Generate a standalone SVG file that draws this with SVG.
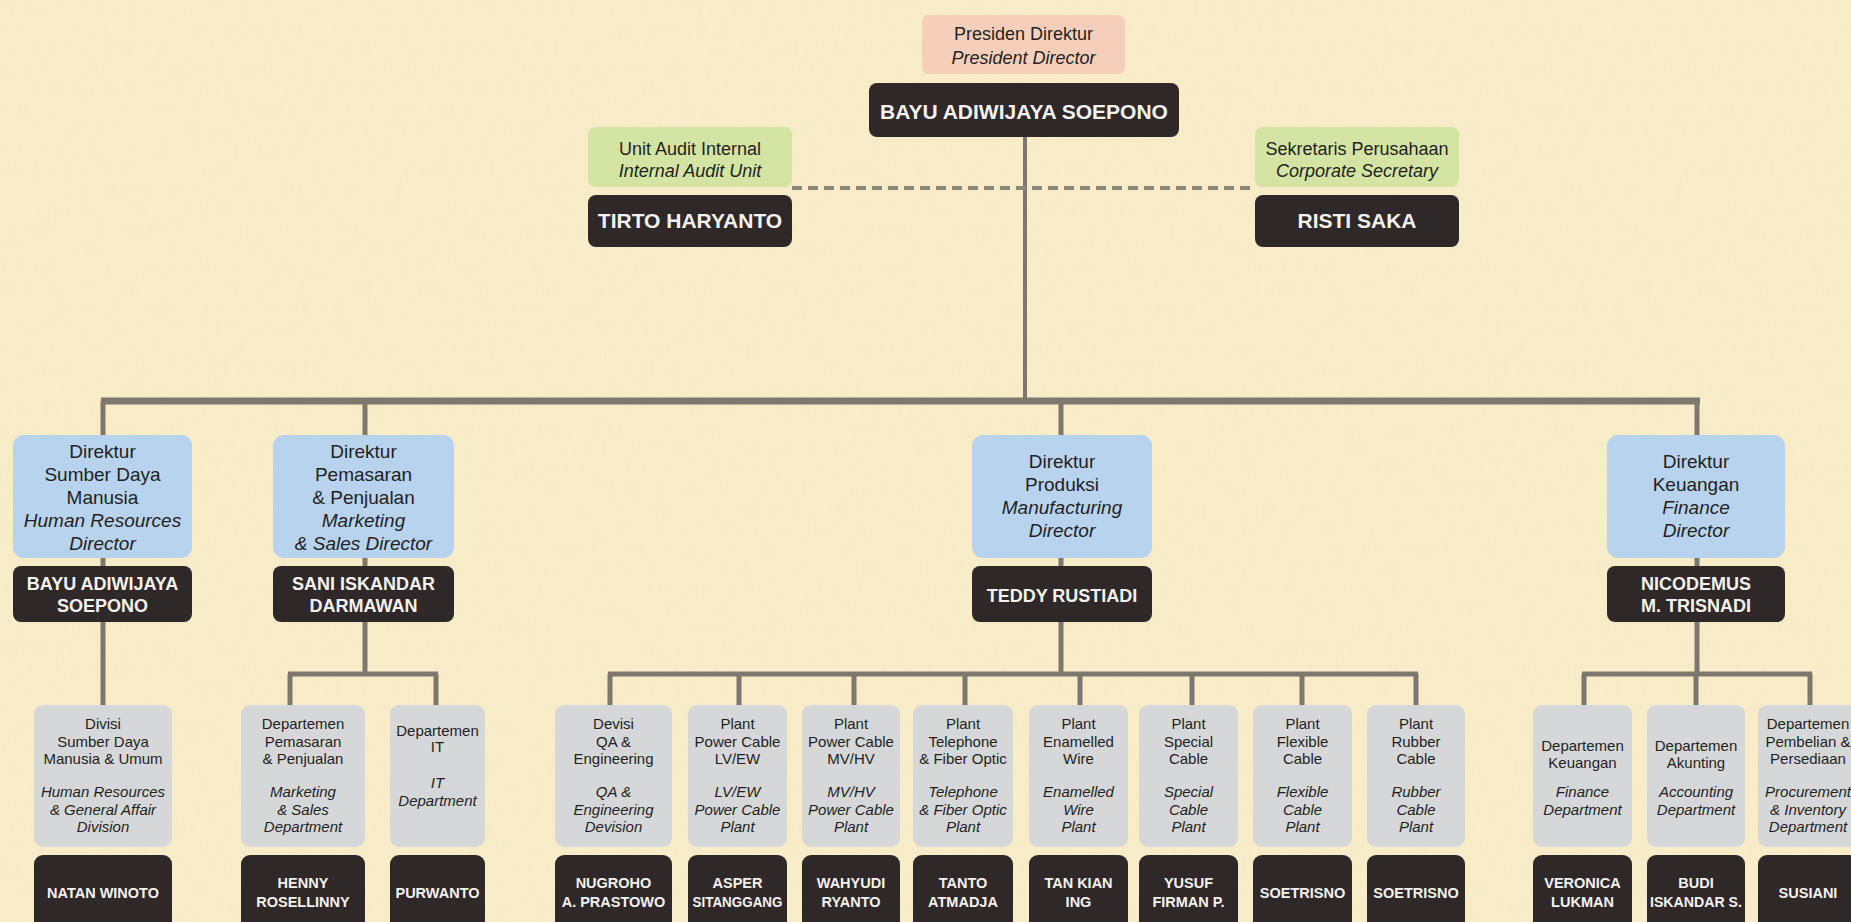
<svg xmlns="http://www.w3.org/2000/svg" width="1851" height="922" viewBox="0 0 1851 922">
<defs>
<filter id="paper" x="0" y="0" width="100%" height="100%">
<feTurbulence type="fractalNoise" baseFrequency="0.6 0.05" numOctaves="2" seed="7"/>
<feColorMatrix type="matrix" values="0 0 0 0 0.82  0 0 0 0 0.72  0 0 0 0 0.50  0.9 0 0 0 -0.38"/>
</filter>
<style>
.t{font-family:"Liberation Sans",Arial,Helvetica,sans-serif;text-anchor:middle;fill:#231f1e}
.w{fill:#f4f2ef;font-weight:bold}
.i{font-style:italic}
.s18{font-size:18px}
.s19{font-size:19px}
.s21{font-size:21px}
.s15{font-size:15px}
.s14{font-size:14.5px}
.pink{fill:#f6cfbb}
.green{fill:#d3e4a3}
.blue{fill:#b8d3ee}
.gray{fill:#d5d7d8}
.dark{fill:#2f2828}
.ln{stroke:#7d786e;fill:none}
.bus{stroke-width:7}
.l5{stroke-width:5}
.l4{stroke-width:4}
.dash{stroke:#8b877d;stroke-width:4;stroke-dasharray:10 6;fill:none}
</style>
</defs>
<rect x="0" y="0" width="1851" height="922" fill="#f9edc9"/>
<rect x="0" y="0" width="1851" height="922" filter="url(#paper)" opacity="0.35"/>

<g id="connectors">
<path class="ln l4" d="M1025 137 V401"/>
<path class="dash" d="M792 188 H1255"/>
<path class="ln bus" d="M101 401 H1700"/>
<path class="ln l5" d="M103 401 V706 M365 401 V674 M1061 401 V674 M1697 401 V674"/>
<path class="ln l5" d="M288 674 H438 M290 674 V706 M436 674 V706"/>
<path class="ln l5" d="M608 674 H1418 M610 674 V706 M739 674 V706 M854 674 V706 M965 674 V706 M1080 674 V706 M1192 674 V706 M1302 674 V706 M1416 674 V706"/>
<path class="ln l5" d="M1582 674 H1812 M1584 674 V706 M1696 674 V706 M1810 674 V706"/>
</g>

<g id="president">
<rect class="pink" x="922" y="15" width="203" height="59" rx="7"/>
<text class="t s18" x="1023.5" y="40">Presiden Direktur</text>
<text class="t s18 i" x="1023.5" y="64">President Director</text>
<rect class="dark" x="869" y="83" width="310" height="54" rx="8"/>
<text class="t w s21" x="1024" y="119">BAYU ADIWIJAYA SOEPONO</text>
</g>

<g id="audit">
<rect class="green" x="588" y="127" width="204" height="60" rx="7"/>
<text class="t s18" x="690" y="155">Unit Audit Internal</text>
<text class="t s18 i" x="690" y="177">Internal Audit Unit</text>
<rect class="dark" x="588" y="195" width="204" height="52" rx="8"/>
<text class="t w s21" x="690" y="228">TIRTO HARYANTO</text>
</g>

<g id="secretary">
<rect class="green" x="1255" y="127" width="204" height="60" rx="7"/>
<text class="t s18" x="1357" y="155">Sekretaris Perusahaan</text>
<text class="t s18 i" x="1357" y="177">Corporate Secretary</text>
<rect class="dark" x="1255" y="195" width="204" height="52" rx="8"/>
<text class="t w s21" x="1357" y="228">RISTI SAKA</text>
</g>

<g id="dir-hr">
<rect class="blue" x="13" y="435" width="179" height="123" rx="11"/>
<text class="t s19" x="102.5" y="458">Direktur</text>
<text class="t s19" x="102.5" y="481">Sumber Daya</text>
<text class="t s19" x="102.5" y="504">Manusia</text>
<text class="t s19 i" x="102.5" y="527">Human Resources</text>
<text class="t s19 i" x="102.5" y="550">Director</text>
<rect class="dark" x="13" y="566" width="179" height="56" rx="8"/>
<text class="t w s18" x="102.5" y="590">BAYU ADIWIJAYA</text>
<text class="t w s18" x="102.5" y="612">SOEPONO</text>
</g>

<g id="dir-mkt">
<rect class="blue" x="273" y="435" width="181" height="123" rx="11"/>
<text class="t s19" x="363.5" y="458">Direktur</text>
<text class="t s19" x="363.5" y="481">Pemasaran</text>
<text class="t s19" x="363.5" y="504">&amp; Penjualan</text>
<text class="t s19 i" x="363.5" y="527">Marketing</text>
<text class="t s19 i" x="363.5" y="550">&amp; Sales Director</text>
<rect class="dark" x="273" y="566" width="181" height="56" rx="8"/>
<text class="t w s18" x="363.5" y="590">SANI ISKANDAR</text>
<text class="t w s18" x="363.5" y="612">DARMAWAN</text>
</g>

<g id="dir-prod">
<rect class="blue" x="972" y="435" width="180" height="123" rx="11"/>
<text class="t s19" x="1062" y="468">Direktur</text>
<text class="t s19" x="1062" y="491">Produksi</text>
<text class="t s19 i" x="1062" y="514">Manufacturing</text>
<text class="t s19 i" x="1062" y="537">Director</text>
<rect class="dark" x="972" y="566" width="180" height="56" rx="8"/>
<text class="t w s18" x="1062" y="602">TEDDY RUSTIADI</text>
</g>

<g id="dir-fin">
<rect class="blue" x="1607" y="435" width="178" height="123" rx="11"/>
<text class="t s19" x="1696" y="468">Direktur</text>
<text class="t s19" x="1696" y="491">Keuangan</text>
<text class="t s19 i" x="1696" y="514">Finance</text>
<text class="t s19 i" x="1696" y="537">Director</text>
<rect class="dark" x="1607" y="566" width="178" height="56" rx="8"/>
<text class="t w s18" x="1696" y="590">NICODEMUS</text>
<text class="t w s18" x="1696" y="612">M. TRISNADI</text>
</g>

<g id="div-hr">
<rect class="gray" x="34" y="705" width="138" height="142" rx="9"/>
<text class="t s15" x="103" y="729">Divisi</text>
<text class="t s15" x="103" y="746.5">Sumber Daya</text>
<text class="t s15" x="103" y="764">Manusia &amp; Umum</text>
<text class="t s15 i" x="103" y="797">Human Resources</text>
<text class="t s15 i" x="103" y="814.5">&amp; General Affair</text>
<text class="t s15 i" x="103" y="832">Division</text>
<rect class="dark" x="34" y="855" width="138" height="80" rx="9"/>
<text class="t w s14" x="103" y="898">NATAN WINOTO</text>
</g>

<g id="dept-mkt">
<rect class="gray" x="241" y="705" width="124" height="142" rx="9"/>
<text class="t s15" x="303" y="729">Departemen</text>
<text class="t s15" x="303" y="746.5">Pemasaran</text>
<text class="t s15" x="303" y="764">&amp; Penjualan</text>
<text class="t s15 i" x="303" y="797">Marketing</text>
<text class="t s15 i" x="303" y="814.5">&amp; Sales</text>
<text class="t s15 i" x="303" y="832">Department</text>
<rect class="dark" x="241" y="855" width="124" height="80" rx="9"/>
<text class="t w s14" x="303" y="888">HENNY</text>
<text class="t w s14" x="303" y="907">ROSELLINNY</text>
</g>

<g id="dept-it">
<rect class="gray" x="390" y="705" width="95" height="142" rx="9"/>
<text class="t s15" x="437.5" y="736">Departemen</text>
<text class="t s15" x="437.5" y="752">IT</text>
<text class="t s15 i" x="437.5" y="788">IT</text>
<text class="t s15 i" x="437.5" y="806">Department</text>
<rect class="dark" x="390" y="855" width="95" height="80" rx="9"/>
<text class="t w s14" x="437.5" y="898">PURWANTO</text>
</g>

<g id="div-qa">
<rect class="gray" x="555" y="705" width="117" height="142" rx="9"/>
<text class="t s15" x="613.5" y="729">Devisi</text>
<text class="t s15" x="613.5" y="746.5">QA &amp;</text>
<text class="t s15" x="613.5" y="764">Engineering</text>
<text class="t s15 i" x="613.5" y="797">QA &amp;</text>
<text class="t s15 i" x="613.5" y="814.5">Engineering</text>
<text class="t s15 i" x="613.5" y="832">Devision</text>
<rect class="dark" x="555" y="855" width="117" height="80" rx="9"/>
<text class="t w s14" x="613.5" y="888">NUGROHO</text>
<text class="t w s14" x="613.5" y="907">A. PRASTOWO</text>
</g>

<g id="plant-lvew">
<rect class="gray" x="688" y="705" width="99" height="142" rx="9"/>
<text class="t s15" x="737.5" y="729">Plant</text>
<text class="t s15" x="737.5" y="746.5">Power Cable</text>
<text class="t s15" x="737.5" y="764">LV/EW</text>
<text class="t s15 i" x="737.5" y="797">LV/EW</text>
<text class="t s15 i" x="737.5" y="814.5">Power Cable</text>
<text class="t s15 i" x="737.5" y="832">Plant</text>
<rect class="dark" x="688" y="855" width="99" height="80" rx="9"/>
<text class="t w s14" x="737.5" y="888">ASPER</text>
<text class="t w s14" x="737.5" y="907" textLength="90" lengthAdjust="spacingAndGlyphs">SITANGGANG</text>
</g>

<g id="plant-mvhv">
<rect class="gray" x="802" y="705" width="98" height="142" rx="9"/>
<text class="t s15" x="851" y="729">Plant</text>
<text class="t s15" x="851" y="746.5">Power Cable</text>
<text class="t s15" x="851" y="764">MV/HV</text>
<text class="t s15 i" x="851" y="797">MV/HV</text>
<text class="t s15 i" x="851" y="814.5">Power Cable</text>
<text class="t s15 i" x="851" y="832">Plant</text>
<rect class="dark" x="802" y="855" width="98" height="80" rx="9"/>
<text class="t w s14" x="851" y="888">WAHYUDI</text>
<text class="t w s14" x="851" y="907">RYANTO</text>
</g>

<g id="plant-tel">
<rect class="gray" x="913" y="705" width="100" height="142" rx="9"/>
<text class="t s15" x="963" y="729">Plant</text>
<text class="t s15" x="963" y="746.5">Telephone</text>
<text class="t s15" x="963" y="764">&amp; Fiber Optic</text>
<text class="t s15 i" x="963" y="797">Telephone</text>
<text class="t s15 i" x="963" y="814.5">&amp; Fiber Optic</text>
<text class="t s15 i" x="963" y="832">Plant</text>
<rect class="dark" x="913" y="855" width="100" height="80" rx="9"/>
<text class="t w s14" x="963" y="888">TANTO</text>
<text class="t w s14" x="963" y="907">ATMADJA</text>
</g>

<g id="plant-enam">
<rect class="gray" x="1029" y="705" width="99" height="142" rx="9"/>
<text class="t s15" x="1078.5" y="729">Plant</text>
<text class="t s15" x="1078.5" y="746.5">Enamelled</text>
<text class="t s15" x="1078.5" y="764">Wire</text>
<text class="t s15 i" x="1078.5" y="797">Enamelled</text>
<text class="t s15 i" x="1078.5" y="814.5">Wire</text>
<text class="t s15 i" x="1078.5" y="832">Plant</text>
<rect class="dark" x="1029" y="855" width="99" height="80" rx="9"/>
<text class="t w s14" x="1078.5" y="888">TAN KIAN</text>
<text class="t w s14" x="1078.5" y="907">ING</text>
</g>

<g id="plant-special">
<rect class="gray" x="1139" y="705" width="99" height="142" rx="9"/>
<text class="t s15" x="1188.5" y="729">Plant</text>
<text class="t s15" x="1188.5" y="746.5">Special</text>
<text class="t s15" x="1188.5" y="764">Cable</text>
<text class="t s15 i" x="1188.5" y="797">Special</text>
<text class="t s15 i" x="1188.5" y="814.5">Cable</text>
<text class="t s15 i" x="1188.5" y="832">Plant</text>
<rect class="dark" x="1139" y="855" width="99" height="80" rx="9"/>
<text class="t w s14" x="1188.5" y="888">YUSUF</text>
<text class="t w s14" x="1188.5" y="907">FIRMAN P.</text>
</g>

<g id="plant-flex">
<rect class="gray" x="1253" y="705" width="99" height="142" rx="9"/>
<text class="t s15" x="1302.5" y="729">Plant</text>
<text class="t s15" x="1302.5" y="746.5">Flexible</text>
<text class="t s15" x="1302.5" y="764">Cable</text>
<text class="t s15 i" x="1302.5" y="797">Flexible</text>
<text class="t s15 i" x="1302.5" y="814.5">Cable</text>
<text class="t s15 i" x="1302.5" y="832">Plant</text>
<rect class="dark" x="1253" y="855" width="99" height="80" rx="9"/>
<text class="t w s14" x="1302.5" y="898">SOETRISNO</text>
</g>

<g id="plant-rubber">
<rect class="gray" x="1367" y="705" width="98" height="142" rx="9"/>
<text class="t s15" x="1416" y="729">Plant</text>
<text class="t s15" x="1416" y="746.5">Rubber</text>
<text class="t s15" x="1416" y="764">Cable</text>
<text class="t s15 i" x="1416" y="797">Rubber</text>
<text class="t s15 i" x="1416" y="814.5">Cable</text>
<text class="t s15 i" x="1416" y="832">Plant</text>
<rect class="dark" x="1367" y="855" width="98" height="80" rx="9"/>
<text class="t w s14" x="1416" y="898">SOETRISNO</text>
</g>

<g id="dept-fin">
<rect class="gray" x="1533" y="705" width="99" height="142" rx="9"/>
<text class="t s15" x="1582.5" y="751">Departemen</text>
<text class="t s15" x="1582.5" y="768">Keuangan</text>
<text class="t s15 i" x="1582.5" y="797">Finance</text>
<text class="t s15 i" x="1582.5" y="815">Department</text>
<rect class="dark" x="1533" y="855" width="99" height="80" rx="9"/>
<text class="t w s14" x="1582.5" y="888">VERONICA</text>
<text class="t w s14" x="1582.5" y="907">LUKMAN</text>
</g>

<g id="dept-acc">
<rect class="gray" x="1647" y="705" width="98" height="142" rx="9"/>
<text class="t s15" x="1696" y="751">Departemen</text>
<text class="t s15" x="1696" y="768">Akunting</text>
<text class="t s15 i" x="1696" y="797">Accounting</text>
<text class="t s15 i" x="1696" y="815">Department</text>
<rect class="dark" x="1647" y="855" width="98" height="80" rx="9"/>
<text class="t w s14" x="1696" y="888">BUDI</text>
<text class="t w s14" x="1696" y="907" textLength="92" lengthAdjust="spacingAndGlyphs">ISKANDAR S.</text>
</g>

<g id="dept-proc">
<rect class="gray" x="1758" y="705" width="100" height="142" rx="9"/>
<text class="t s15" x="1808" y="729">Departemen</text>
<text class="t s15" x="1808" y="746.5">Pembelian &amp;</text>
<text class="t s15" x="1808" y="764">Persediaan</text>
<text class="t s15 i" x="1808" y="797">Procurement</text>
<text class="t s15 i" x="1808" y="814.5">&amp; Inventory</text>
<text class="t s15 i" x="1808" y="832">Department</text>
<rect class="dark" x="1758" y="855" width="100" height="80" rx="9"/>
<text class="t w s14" x="1808" y="898">SUSIANI</text>
</g>
</svg>
